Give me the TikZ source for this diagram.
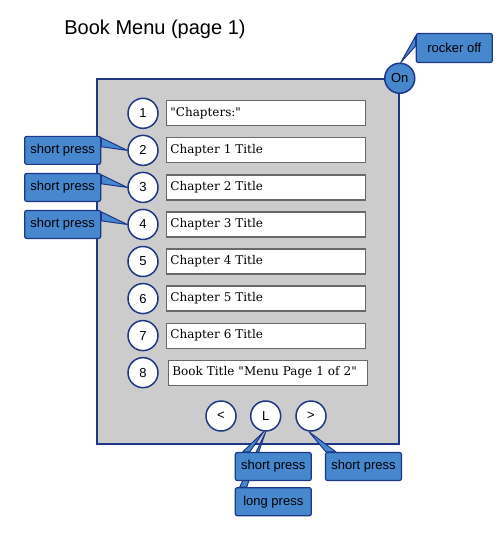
\documentclass[tikz,border=0pt]{standalone}
\usepackage{fontspec}
\setmainfont{Liberation Sans}
\newfontfamily\menufont{DejaVu Serif}
\usetikzlibrary{positioning}
\pgfdeclarelayer{back}
\pgfdeclarelayer{wedge}
\pgfsetlayers{back,wedge,main}
\definecolor{navy}{RGB}{30,55,135}
\definecolor{callblue}{RGB}{70,135,205}
\definecolor{panelgray}{RGB}{204,204,204}
\definecolor{boxgray}{RGB}{105,105,105}
\begin{document}
\begin{tikzpicture}
  [x=1pt,y=-1pt,every node/.style={font=\fontsize{13}{15}\selectfont}]
  \tikzstyle{btn} = [circle,draw=navy,line width=1.5pt,fill=white,minimum size=30pt,inner sep=0pt]
  \tikzstyle{entry} = [draw=boxgray,line width=1.2pt,fill=white,minimum height=25pt,text width=191pt,inner sep=4pt,align=left,font=\menufont\fontsize{12}{14}\selectfont]
  \tikzstyle{note} = [draw=navy,line width=1.2pt,fill=callblue,rounded corners=2pt,minimum width=76pt,minimum height=28pt,inner sep=2pt]
  \tikzstyle{pointer} = [draw=navy,line width=1pt,fill=callblue,line join=round]
  \useasboundingbox (0,0) rectangle (500,550);
  \node (title) at (155,29) {\fontsize{20}{24}\selectfont Book Menu (page 1)};
  \begin{pgfonlayer}{back}
  \node[draw=navy,line width=1.5pt,fill=panelgray,minimum width=302pt,minimum height=365pt,inner sep=0pt] (panel) at (248,261.5) {};
  \end{pgfonlayer}
  % menu entries
  \foreach \i /\gap /\txt in {1/7/"Chapters:",2/7/Chapter 1 Title,3/7/Chapter 2 Title,4/7/Chapter 3 Title,
      5/7/Chapter 4 Title,6/7/Chapter 5 Title,7/7/Chapter 6 Title,8/9/Book Title "Menu Page 1 of 2"} {
    \node[btn] (n\i) at (143,{76.25+37.05*\i}) {\i};
    \node[entry,right=\gap pt of n\i] (e\i) {\txt};
  }
  \node[btn,fill=callblue] (on) at (panel.north east) {On};
  \node[btn] (prev) at (221,416) {<};
  \node[btn] (sel)  at (265.7,416) {L};
  \node[btn] (next) at (311,416) {>};
  % callouts
  \node[note,minimum height=29pt] (rocker) at (454.3,48) {rocker off};
  \foreach \i in {2,3,4}
    \node[note,left=26pt of n\i] (sp\i) {short press};
  \node[note] (selshort) at (273.3,466.5) {short press};
  \node[note,below=6pt of selshort] (sellong) {long press};
  \node[note,right=13pt of selshort] (nextshort) {short press};
  \begin{pgfonlayer}{wedge}
  \foreach \i in {2,3,4}
    \path[pointer] ([yshift=-2pt]sp\i.north east) -- (n\i.west) -- ([yshift=-11pt]sp\i.north east) -- cycle;
  \path[pointer] ([yshift=-3pt]rocker.north west) -- ([xshift=1pt]on.north) -- ([yshift=-13pt]rocker.north west) -- cycle;
  \path[pointer] ([xshift=5pt]sellong.north west) -- (sel.south) -- ([xshift=12pt]sellong.north west) -- cycle;
  \path[pointer] ([xshift=8pt]selshort.north west) -- ([xshift=-2pt]sel.south) -- ([xshift=15pt]selshort.north west) -- cycle;
  \path[pointer] ([xshift=1pt]nextshort.north west) -- ([xshift=-2pt]next.south) -- ([xshift=11pt]nextshort.north west) -- cycle;
  \end{pgfonlayer}
\end{tikzpicture}
\end{document}
